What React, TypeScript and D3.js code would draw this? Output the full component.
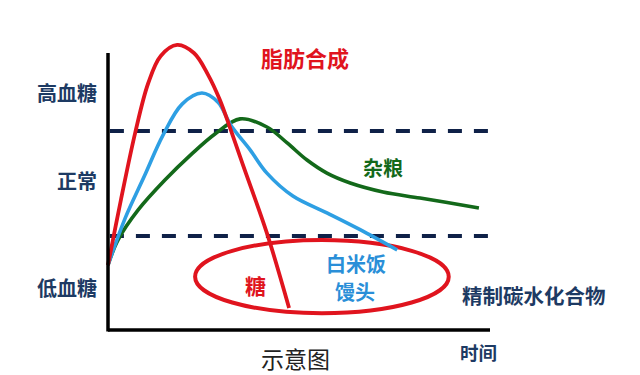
import React from "react";
import * as d3 from "d3";

type Pt = [number, number];

// time (0-100) vs blood glucose level (arbitrary 0-100)
const refinedSugar: Pt[] = [
  [0, 22.4], [3.4, 45], [7.1, 67.9], [10.5, 85], [13.8, 94.5], [18.1, 98.3],
  [22.5, 95.5], [26.2, 88], [29.3, 79.3], [32, 69.5], [35.3, 57],
  [41.6, 33.4], [47.4, 7.6],
];
const whiteRice: Pt[] = [
  [0, 22.4], [4.5, 38.6], [9.5, 53], [14.4, 67.2], [19.4, 77.9], [24.6, 81.7],
  [28.8, 78.5], [32.2, 70.5], [37.2, 62.1], [41.6, 54.1], [48.4, 46.2],
  [57.3, 40.4], [66, 34.6], [75.7, 27.6],
];
const wholeGrain: Pt[] = [
  [0, 22.4], [2.6, 31], [7.9, 41.4], [14.9, 51.7], [22, 60.8], [28, 67.6],
  [34.6, 72.8], [41.6, 70], [46.9, 64.5], [52.1, 58.6], [57.3, 54.1],
  [63.4, 50.7], [72, 47.6], [81.7, 45.5], [97.1, 42.1],
];
const thresholds = [68.6, 32.4]; // high / low glucose boundaries
const levelLabels = ["高血糖", "正常", "低血糖"];
const levelValues = [82, 51.5, 14.5];
// ellipse marking refined carbs region: center & radii in data units
const ellipseCenter: Pt = [56, 18.4];
const ellipseRadii: Pt = [33.2, 12.6];

const W = 640;
const H = 375;
const x = d3.scaleLinear().domain([0, 100]).range([108, 490]);
const y = d3.scaleLinear().domain([0, 100]).range([330, 40]);

const line = d3
  .line<Pt>()
  .x((d) => x(d[0]))
  .y((d) => y(d[1]))
  .curve(d3.curveCatmullRom.alpha(0.5));

const font = "'Noto Sans CJK SC', 'Noto Sans', sans-serif";
const navy = "#1d3a63";
const red = "#e0141e";
const blue = "#2e9fe3";
const green = "#13691a";

export default function App() {
  const sx = x(0);
  const pxPerX = x(1) - x(0);
  const pxPerY = y(0) - y(1);
  return (
    <svg
      width={W}
      height={H}
      style={{ position: "absolute", left: 0, top: 0, background: "#fff" }}
      fontFamily={font}
    >
      {thresholds.map((t, i) => (
        <line
          key={i}
          x1={x(0.5)}
          x2={x(99.5)}
          y1={y(t)}
          y2={y(t)}
          stroke="#0f2148"
          strokeWidth={4}
          strokeDasharray="14 12"
        />
      ))}
      <ellipse
        cx={x(ellipseCenter[0])}
        cy={y(ellipseCenter[1])}
        rx={ellipseRadii[0] * pxPerX}
        ry={ellipseRadii[1] * pxPerY}
        fill="none"
        stroke={red}
        strokeWidth={4}
      />
      <path d={line(wholeGrain) || ""} fill="none" stroke={green} strokeWidth={3.6} />
      <path d={line(whiteRice) || ""} fill="none" stroke={blue} strokeWidth={3.6} />
      <path d={line(refinedSugar) || ""} fill="none" stroke={red} strokeWidth={3.8} />
      {/* axes */}
      <line x1={sx} x2={sx} y1={y(95.5)} y2={y(0) + 1.5} stroke="#000" strokeWidth={3.5} />
      <line x1={sx} x2={x(100)} y1={y(0)} y2={y(0)} stroke="#000" strokeWidth={3.5} />
      {levelLabels.map((l, i) => (
        <text
          key={l}
          x={97}
          y={y(levelValues[i])}
          textAnchor="end"
          dominantBaseline="central"
          fontSize={20}
          fontWeight={700}
          fill={navy}
        >
          {l}
        </text>
      ))}
      <text x={261} y={57} dominantBaseline="central" fontSize={22} fontWeight={700} fill={red}>
        脂肪合成
      </text>
      <text x={363} y={167} dominantBaseline="central" fontSize={20} fontWeight={700} fill={green}>
        杂粮
      </text>
      <text x={326} y={263} dominantBaseline="central" fontSize={20} fontWeight={700} fill="#2a8fd8">
        白米饭
      </text>
      <text x={335} y={291} dominantBaseline="central" fontSize={20} fontWeight={700} fill="#2a8fd8">
        馒头
      </text>
      <text x={245} y={285} dominantBaseline="central" fontSize={21} fontWeight={700} fill={red}>
        糖
      </text>
      <text x={462} y={295} dominantBaseline="central" fontSize={20.5} fontWeight={700} fill={navy}>
        精制碳水化合物
      </text>
      <text x={261} y={358} dominantBaseline="central" fontSize={23} fontWeight={400} fill="#222">
        示意图
      </text>
      <text x={460} y={352} dominantBaseline="central" fontSize={18.5} fontWeight={700} fill={navy}>
        时间
      </text>
    </svg>
  );
}
